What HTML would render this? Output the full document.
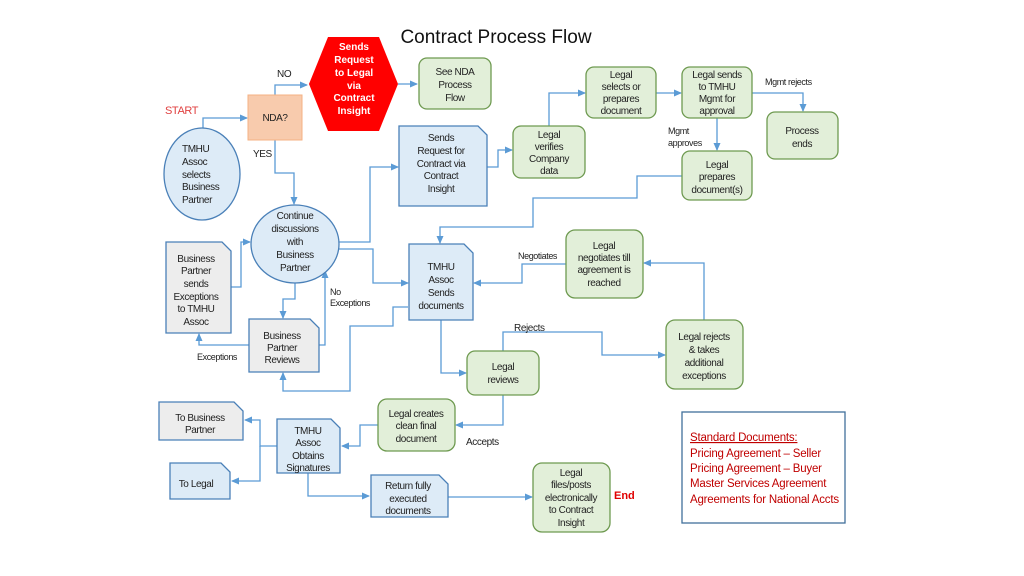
<!DOCTYPE html>
<html><head><meta charset="utf-8"><style>
html,body{margin:0;padding:0;background:#fff;}
svg{display:block;}
text{font-family:"Liberation Sans",Arial,sans-serif;font-size:10px;fill:#222;letter-spacing:-0.4px;}
.c{text-anchor:middle;}
.g{fill:#e2efd9;stroke:#6e9a50;stroke-width:1.3;}
.b{fill:#ddebf7;stroke:#4a80b8;stroke-width:1.3;}
.gr{fill:#ededed;stroke:#4a80b8;stroke-width:1.3;}
.ln{fill:none;stroke:#5b9bd5;stroke-width:1.3;}
</style></head><body>
<svg width="1024" height="576" viewBox="0 0 1024 576">
<defs><marker id="a" markerWidth="8" markerHeight="8" refX="7" refY="4" orient="auto" markerUnits="userSpaceOnUse"><path d="M0,0.5 L8,4 L0,7.5 Z" fill="#5b9bd5"/></marker></defs>
<text x="496" y="43" class="c" style="font-size:19px;letter-spacing:0;fill:#111">Contract Process Flow</text>

<g class="ln">
<path d="M203,128 V118 H247" marker-end="url(#a)"/>
<path d="M275,95 V85 H307" marker-end="url(#a)"/>
<path d="M398,84 H417" marker-end="url(#a)"/>
<path d="M275,140 V173 H294 V204" marker-end="url(#a)"/>
<path d="M339,242 H370 V167 H398" marker-end="url(#a)"/>
<path d="M487,167 H498 V150 H512" marker-end="url(#a)"/>
<path d="M549,126 V93 H585" marker-end="url(#a)"/>
<path d="M656,93 H681" marker-end="url(#a)"/>
<path d="M752,93 H803 V111" marker-end="url(#a)"/>
<path d="M717,118 V150" marker-end="url(#a)"/>
<path d="M682,176 H637 V198 H533 V227 H440 V243" marker-end="url(#a)"/>
<path d="M339,249 H373 V283 H408" marker-end="url(#a)"/>
<path d="M566,264 H522 V283 H474" marker-end="url(#a)"/>
<path d="M704,320 V263 H644" marker-end="url(#a)"/>
<path d="M441,320 V373 H466" marker-end="url(#a)"/>
<path d="M503,351 V332 H602 V355 H665" marker-end="url(#a)"/>
<path d="M295,283 V299 H283 V318" marker-end="url(#a)"/>
<path d="M231,287 H241 V242 H250" marker-end="url(#a)"/>
<path d="M319,345 H325 V271" marker-end="url(#a)"/>
<path d="M249,345 H199 V334" marker-end="url(#a)"/>
<path d="M408,307 H393 V326 H350 V391 H283 V373" marker-end="url(#a)"/>
<path d="M503,395 V425 H456" marker-end="url(#a)"/>
<path d="M378,425 H360 V446 H342" marker-end="url(#a)"/>
<path d="M277,446 H260 V420 H245" marker-end="url(#a)"/>
<path d="M260,446 V481 H232" marker-end="url(#a)"/>
<path d="M308,473 V496 H369" marker-end="url(#a)"/>
<path d="M448,497 H532" marker-end="url(#a)"/>
</g>

<ellipse cx="202" cy="174" rx="38" ry="46" class="b"/>
<rect x="248" y="95" width="54" height="45" fill="#f8cbad" stroke="#f4b183"/>
<polygon points="309,84 328,37 379,37 398,84 379,131 328,131" fill="#ff0000"/>
<rect x="419" y="58" width="72" height="51" rx="8" class="g"/>
<ellipse cx="295" cy="244" rx="44" ry="39" class="b"/>
<path d="M399,126 H478 L487,135 V206 H399 Z" class="b"/>
<rect x="513" y="126" width="72" height="52" rx="8" class="g"/>
<rect x="586" y="67" width="70" height="51" rx="8" class="g"/>
<rect x="682" y="67" width="70" height="51" rx="8" class="g"/>
<rect x="767" y="112" width="71" height="47" rx="8" class="g"/>
<rect x="682" y="151" width="70" height="49" rx="8" class="g"/>
<path d="M409,244 H464 L473,253 V320 H409 Z" class="b"/>
<rect x="566" y="230" width="77" height="68" rx="9" class="g"/>
<rect x="666" y="320" width="77" height="69" rx="9" class="g"/>
<rect x="467" y="351" width="72" height="44" rx="8" class="g"/>
<path d="M166,242 H222 L231,251 V333 H166 Z" class="gr"/>
<path d="M249,319 H310 L319,328 V372 H249 Z" class="gr"/>
<rect x="378" y="399" width="77" height="52" rx="9" class="g"/>
<path d="M277,419 H331 L340,428 V473 H277 Z" class="b"/>
<path d="M159,402 H234 L243,411 V440 H159 Z" class="gr"/>
<path d="M170,463 H221 L230,472 V499 H170 Z" class="b"/>
<path d="M371,475 H439 L448,484 V517 H371 Z" class="b"/>
<rect x="533" y="463" width="77" height="69" rx="9" class="g"/>
<rect x="682" y="412" width="163" height="111" fill="#fff" stroke="#41719c" stroke-width="1.3"/>

<text x="165" y="114" style="fill:#e04040;font-size:11px">START</text>
<text x="277" y="77">NO</text>
<text x="253" y="157">YES</text>
<text x="182" y="152">TMHU</text><text x="182" y="165">Assoc</text><text x="182" y="178">selects</text><text x="182" y="190">Business</text><text x="182" y="203">Partner</text>
<text x="275" y="121" class="c">NDA?</text>
<text x="354" y="50" class="c" style="fill:#fff;font-weight:bold;letter-spacing:0">Sends</text><text x="354" y="63" class="c" style="fill:#fff;font-weight:bold;letter-spacing:0">Request</text><text x="354" y="76" class="c" style="fill:#fff;font-weight:bold;letter-spacing:0">to Legal</text><text x="354" y="89" class="c" style="fill:#fff;font-weight:bold;letter-spacing:0">via</text><text x="354" y="101" class="c" style="fill:#fff;font-weight:bold;letter-spacing:0">Contract</text><text x="354" y="114" class="c" style="fill:#fff;font-weight:bold;letter-spacing:0">Insight</text>
<text x="455" y="75" class="c">See NDA</text><text x="455" y="88" class="c">Process</text><text x="455" y="101" class="c">Flow</text>
<text x="295" y="219" class="c">Continue</text><text x="295" y="232" class="c">discussions</text><text x="295" y="245" class="c">with</text><text x="295" y="258" class="c">Business</text><text x="295" y="271" class="c">Partner</text>
<text x="441" y="141" class="c">Sends</text><text x="441" y="154" class="c">Request for</text><text x="441" y="167" class="c">Contract via</text><text x="441" y="179" class="c">Contract</text><text x="441" y="192" class="c">Insight</text>
<text x="549" y="138" class="c">Legal</text><text x="549" y="150" class="c">verifies</text><text x="549" y="162" class="c">Company</text><text x="549" y="174" class="c">data</text>
<text x="621" y="78" class="c">Legal</text><text x="621" y="90" class="c">selects or</text><text x="621" y="102" class="c">prepares</text><text x="621" y="114" class="c">document</text>
<text x="717" y="78" class="c">Legal sends</text><text x="717" y="90" class="c">to TMHU</text><text x="717" y="102" class="c">Mgmt for</text><text x="717" y="114" class="c">approval</text>
<text x="765" y="85" style="font-size:9px">Mgmt rejects</text>
<text x="668" y="134" style="font-size:9px">Mgmt</text><text x="668" y="146" style="font-size:9px">approves</text>
<text x="802" y="134" class="c">Process</text><text x="802" y="147" class="c">ends</text>
<text x="717" y="168" class="c">Legal</text><text x="717" y="180" class="c">prepares</text><text x="717" y="193" class="c">document(s)</text>
<text x="441" y="270" class="c">TMHU</text><text x="441" y="283" class="c">Assoc</text><text x="441" y="296" class="c">Sends</text><text x="441" y="309" class="c">documents</text>
<text x="518" y="259" style="font-size:9px">Negotiates</text>
<text x="604" y="249" class="c">Legal</text><text x="604" y="261" class="c">negotiates till</text><text x="604" y="273" class="c">agreement is</text><text x="604" y="286" class="c">reached</text>
<text x="514" y="331">Rejects</text>
<text x="704" y="340" class="c">Legal rejects</text><text x="704" y="353" class="c">&amp; takes</text><text x="704" y="366" class="c">additional</text><text x="704" y="379" class="c">exceptions</text>
<text x="503" y="370" class="c">Legal</text><text x="503" y="383" class="c">reviews</text>
<text x="196" y="262" class="c">Business</text><text x="196" y="274" class="c">Partner</text><text x="196" y="287" class="c">sends</text><text x="196" y="300" class="c">Exceptions</text><text x="196" y="312" class="c">to TMHU</text><text x="196" y="325" class="c">Assoc</text>
<text x="330" y="295" style="font-size:9px">No</text><text x="330" y="306" style="font-size:9px">Exceptions</text>
<text x="197" y="360" style="font-size:9px">Exceptions</text>
<text x="282" y="339" class="c">Business</text><text x="282" y="351" class="c">Partner</text><text x="282" y="363" class="c">Reviews</text>
<text x="416" y="417" class="c">Legal creates</text><text x="416" y="429" class="c">clean final</text><text x="416" y="442" class="c">document</text>
<text x="466" y="445">Accepts</text>
<text x="308" y="434" class="c">TMHU</text><text x="308" y="446" class="c">Assoc</text><text x="308" y="459" class="c">Obtains</text><text x="308" y="471" class="c">Signatures</text>
<text x="200" y="421" class="c">To Business</text><text x="200" y="433" class="c">Partner</text>
<text x="196" y="487" class="c">To Legal</text>
<text x="408" y="489" class="c">Return fully</text><text x="408" y="502" class="c">executed</text><text x="408" y="514" class="c">documents</text>
<text x="571" y="476" class="c">Legal</text><text x="571" y="488" class="c">files/posts</text><text x="571" y="501" class="c">electronically</text><text x="571" y="513" class="c">to Contract</text><text x="571" y="526" class="c">Insight</text>
<text x="614" y="499" style="fill:#e00000;font-weight:bold;font-size:11px;letter-spacing:0">End</text>
<text x="690" y="441" style="fill:#c00000;font-size:11.5px;text-decoration:underline;letter-spacing:-0.2px">Standard Documents:</text>
<text x="690" y="457" style="fill:#c00000;font-size:11.5px;letter-spacing:-0.2px">Pricing Agreement – Seller</text>
<text x="690" y="472" style="fill:#c00000;font-size:11.5px;letter-spacing:-0.2px">Pricing Agreement – Buyer</text>
<text x="690" y="487" style="fill:#c00000;font-size:11.5px;letter-spacing:-0.2px">Master Services Agreement</text>
<text x="690" y="503" style="fill:#c00000;font-size:11.5px;letter-spacing:-0.2px">Agreements for National Accts</text>
</svg>
</body></html>
